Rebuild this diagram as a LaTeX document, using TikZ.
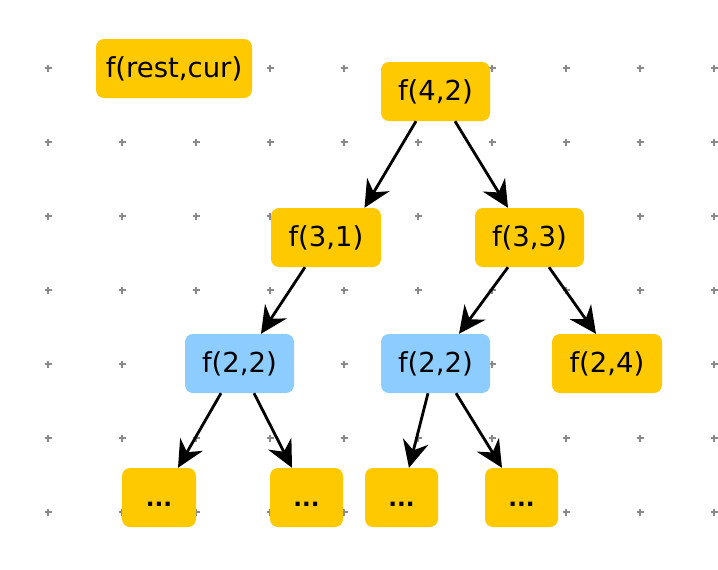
\documentclass[tikz,border=0pt]{standalone}
\usepackage{fontspec}
\setmainfont{DejaVu Sans}
\usetikzlibrary{arrows.meta}
\definecolor{nodeor}{HTML}{FFC900}
\definecolor{nodebl}{HTML}{8DCCFF}
\definecolor{gridc}{HTML}{8A8A8A}
\tikzset{
  fbox/.style={fill=nodeor, rounded corners=8pt, inner sep=0pt, minimum height=59pt,
    font=\fontsize{27.5}{32}\selectfont, text=black},
  fblue/.style={fbox, fill=nodebl},
  conn/.style={line width=2.8pt, -{Stealth[length=27pt, width=26pt, inset=9pt]}},
}
\newcommand{\dotstext}{\vphantom{f(2,2)}{\bfseries\fontsize{23}{28}\selectfont ...}}
\begin{document}
\begin{tikzpicture}[x=1pt, y=-1pt]
\useasboundingbox (0,0) rectangle (718,570);
% grid crosses
\foreach \i in {0,...,9} {
  \foreach \j in {0,...,6} {
    \draw[gridc, line width=1.4pt] ({48+74*\i-3.5},{68+74*\j}) -- ++(7,0)
      ({48+74*\i},{68+74*\j-3.5}) -- ++(0,7);
  }
}
% nodes
\node[fbox, minimum width=156pt] (rc) at (174,68.5) {f(rest,cur)};
\node[fbox, minimum width=109pt] (n42) at (435.5,91.5) {f(4,2)};
\node[fbox, minimum width=110pt] (n31) at (326,237.5) {f(3,1)};
\node[fbox, minimum width=109pt] (n33) at (529.5,237.5) {f(3,3)};
\node[fblue, minimum width=109pt] (n22a) at (239.5,363.5) {f(2,2)};
\node[fblue, minimum width=109pt] (n22b) at (435.5,363.5) {f(2,2)};
\node[fbox, minimum width=110pt] (n24) at (607,363.5) {f(2,4)};
\node[fbox, minimum width=74pt] (d1) at (159,497.5) {\dotstext};
\node[fbox, minimum width=73pt] (d2) at (306.5,497.5) {\dotstext};
\node[fbox, minimum width=73pt] (d3) at (401.5,497.5) {\dotstext};
\node[fbox, minimum width=73pt] (d4) at (521.5,497.5) {\dotstext};
% connectors
\draw[conn] ([xshift=-19.5pt]n42.south) -- ([xshift=38.5pt]n31.north);
\draw[conn] ([xshift=19.5pt]n42.south) -- ([xshift=-21.5pt]n33.north);
\draw[conn] ([xshift=-21pt]n31.south) -- ([xshift=21.5pt]n22a.north);
\draw[conn] ([xshift=-21.5pt]n33.south) -- ([xshift=23.5pt]n22b.north);
\draw[conn] ([xshift=19.5pt]n33.south) -- ([xshift=-11pt]n24.north);
\draw[conn] ([xshift=-18.5pt]n22a.south) -- ([xshift=19pt]d1.north);
\draw[conn] ([xshift=14.5pt]n22a.south) -- ([xshift=-14.5pt]d2.north);
\draw[conn] ([xshift=-7.5pt]n22b.south) -- ([xshift=7.5pt]d3.north);
\draw[conn] ([xshift=20.5pt]n22b.south) -- ([xshift=-19.5pt]d4.north);
\end{tikzpicture}
\end{document}
